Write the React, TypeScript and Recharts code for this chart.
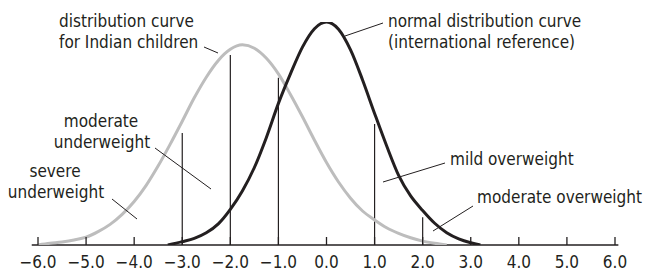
import React from 'react';
import { LineChart, Line, XAxis, YAxis, ReferenceLine } from 'recharts';

// x positions (z-score) and heights
const tickValues = [-6, -5, -4, -3, -2, -1, 0, 1, 2, 3, 4, 5, 6];

const indianX = [
  -6, -5.75, -5.5, -5.25, -5, -4.75, -4.5, -4.25, -4, -3.75, -3.5, -3.25, -3,
  -2.75, -2.5, -2.25, -2, -1.75, -1.5, -1.25, -1, -0.75, -0.5, -0.25, 0,
  0.25, 0.5, 0.75, 1, 1.25, 1.5, 1.75, 2, 2.25, 2.5,
];
const indianY = [
  0, 0.003, 0.0055, 0.009, 0.014, 0.024, 0.037, 0.055, 0.078, 0.107, 0.142, 0.181, 0.222,
  0.264, 0.301, 0.331, 0.351, 0.359, 0.353, 0.335, 0.307, 0.27, 0.23, 0.188, 0.148,
  0.113, 0.084, 0.061, 0.045, 0.031, 0.021, 0.013, 0.007, 0.003, 0,
];

const refX = [
  -3.3, -3, -2.75, -2.5, -2.25, -2, -1.75, -1.5, -1.25, -1, -0.75, -0.5, -0.25, 0,
  0.25, 0.5, 0.75, 1, 1.25, 1.5, 1.75, 2, 2.25, 2.5, 2.75, 3, 3.2,
];
const refY = [
  0, 0.006, 0.012, 0.022, 0.038, 0.064, 0.097, 0.139, 0.193, 0.254, 0.307, 0.355, 0.388, 0.4,
  0.387, 0.35, 0.296, 0.236, 0.178, 0.125, 0.088, 0.062, 0.039, 0.022, 0.011, 0.004, 0,
];

// cut-off lines
const cutX = [-3, -2, -1, 1, 2];
const cutTop = [0.201, 0.341, 0.3, 0.217, 0.05];

const indianData = indianX.map((x, i) => ({ x, y: indianY[i] }));
const refData = refX.map((x, i) => ({ x, y: refY[i] }));

const FONT = "'Liberation Sans Narrow', 'DejaVu Sans Condensed', 'Roboto Condensed', sans-serif";
const INK = '#231f20';

const fmt = (v: number) => v.toFixed(1).replace('-', '\u2212');

const Tick = (props: any) => {
  const { x, y, payload } = props;
  return (
    <g>
      <line x1={x} x2={x} y1={y - 8} y2={y} stroke={INK} strokeWidth={1.3} />
      <text x={x} y={y + 23} textAnchor="middle" fontSize={17} fill={INK} fontFamily={FONT} fontStretch="condensed">
        {fmt(payload.value)}
      </text>
    </g>
  );
};

// text labels + leader lines on top of the chart
const Notes = () => {
  const t = { fontSize: 17, fill: INK, fontFamily: FONT, fontStretch: 'condensed' } as any;
  const l = { stroke: INK, strokeWidth: 1 };
  return (
    <svg width={649} height={271} style={{ position: 'absolute', left: 0, top: 0, pointerEvents: 'none' }}>
      <text x={59} y={27} {...t}>distribution curve</text>
      <text x={59} y={48} {...t}>for Indian children</text>
      <line x1={204} y1={47} x2={218} y2={53} {...l} />

      <text x={388} y={27} {...t}>normal distribution curve</text>
      <text x={388} y={48} {...t}>(international reference)</text>
      <line x1={383} y1={23} x2={345} y2={36} {...l} />

      <text x={101} y={127} textAnchor="middle" {...t}>moderate</text>
      <text x={102} y={148} textAnchor="middle" {...t}>underweight</text>
      <line x1={155} y1={148} x2={211} y2={189} {...l} />

      <text x={55} y={177} textAnchor="middle" {...t}>severe</text>
      <text x={56} y={198} textAnchor="middle" {...t}>underweight</text>
      <line x1={112} y1={199} x2={137} y2={219} {...l} />

      <text x={450} y={165} {...t}>mild overweight</text>
      <line x1={445} y1={163} x2={383} y2={182} {...l} />

      <text x={477} y={203} {...t}>moderate overweight</text>
      <line x1={473} y1={206} x2={433} y2={231} {...l} />
    </svg>
  );
};

export default function App() {
  return (
    <div style={{ position: 'absolute', left: 0, top: 0, width: 649, height: 271, background: '#fff' }}>
      <LineChart width={649} height={271} margin={{ top: 22, right: 34, left: 38, bottom: 0 }}>
        <XAxis
          type="number"
          dataKey="x"
          domain={[-6, 6]}
          ticks={tickValues}
          height={26}
          axisLine={false}
          tickLine={false}
          tickSize={0}
          tickMargin={0}
          tick={<Tick />}
          interval={0}
          allowDataOverflow
        />
        <YAxis hide domain={[0, 0.4]} allowDataOverflow />
        <ReferenceLine
          segment={[{ x: -6.13, y: 0 }, { x: 6.07, y: 0 }]}
          stroke={INK}
          strokeWidth={1.5}
          ifOverflow="visible"
        />
        {cutX.map((x, i) => (
          <ReferenceLine
            key={x}
            segment={[{ x, y: 0 }, { x, y: cutTop[i] }]}
            stroke={INK}
            strokeWidth={1.2}
          />
        ))}
        <Line
          data={indianData}
          dataKey="y"
          type="monotone"
          stroke="#bdbdbd"
          strokeWidth={3}
          dot={false}
          isAnimationActive={false}
        />
        <Line
          data={refData}
          dataKey="y"
          type="monotone"
          stroke={INK}
          strokeWidth={3}
          dot={false}
          isAnimationActive={false}
        />
      </LineChart>
      <Notes />
    </div>
  );
}
